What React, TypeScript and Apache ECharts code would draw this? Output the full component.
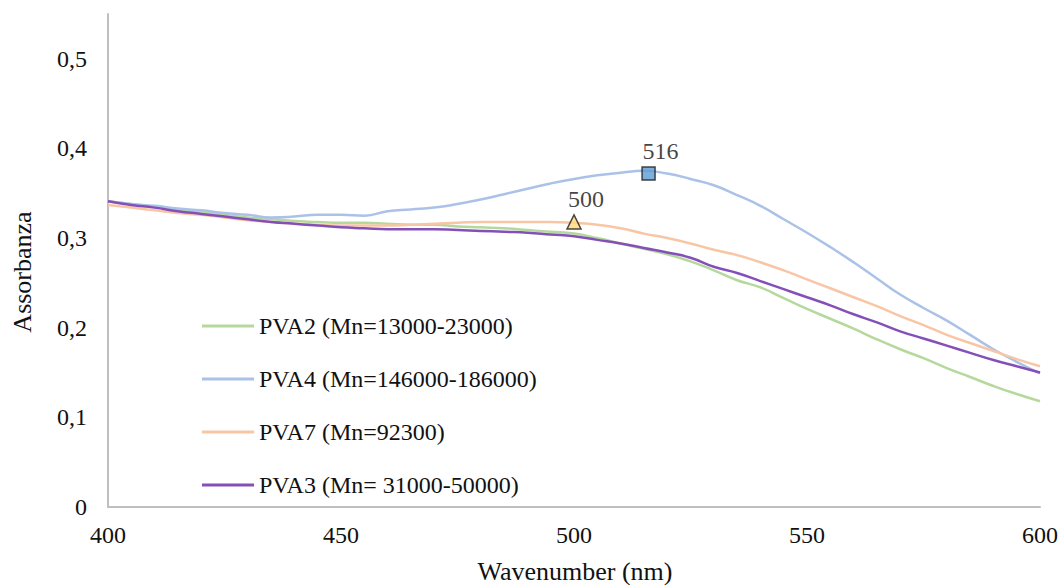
import React, { useEffect, useRef } from "react";
import * as echarts from "echarts";

const wavelengths = [400, 405, 410, 415, 420, 425, 430, 435, 440, 445, 450, 455, 460, 465, 470, 475, 480, 485, 490, 495, 500, 505, 510, 515, 520, 525, 530, 535, 540, 545, 550, 555, 560, 565, 570, 575, 580, 585, 590, 595, 600];

const pva2 = [0.341, 0.338, 0.335, 0.332, 0.329, 0.326, 0.323, 0.321, 0.319, 0.318, 0.317, 0.317, 0.316, 0.315, 0.315, 0.313, 0.312, 0.311, 0.309, 0.307, 0.305, 0.300, 0.294, 0.288, 0.282, 0.274, 0.264, 0.253, 0.245, 0.233, 0.221, 0.210, 0.199, 0.187, 0.176, 0.166, 0.155, 0.145, 0.135, 0.126, 0.118];
const pva4 = [0.341, 0.338, 0.336, 0.333, 0.331, 0.328, 0.326, 0.323, 0.324, 0.326, 0.326, 0.325, 0.330, 0.332, 0.334, 0.338, 0.343, 0.349, 0.355, 0.361, 0.366, 0.370, 0.373, 0.375, 0.372, 0.366, 0.359, 0.348, 0.336, 0.321, 0.306, 0.290, 0.273, 0.255, 0.237, 0.222, 0.208, 0.192, 0.176, 0.162, 0.149];
const pva7 = [0.337, 0.334, 0.331, 0.328, 0.326, 0.323, 0.320, 0.318, 0.316, 0.315, 0.314, 0.314, 0.314, 0.315, 0.316, 0.317, 0.318, 0.318, 0.318, 0.318, 0.317, 0.315, 0.311, 0.305, 0.300, 0.294, 0.287, 0.281, 0.273, 0.264, 0.254, 0.244, 0.234, 0.224, 0.213, 0.203, 0.192, 0.183, 0.174, 0.165, 0.157];
const pva3 = [0.341, 0.337, 0.334, 0.330, 0.327, 0.324, 0.321, 0.318, 0.316, 0.314, 0.312, 0.311, 0.310, 0.310, 0.310, 0.309, 0.308, 0.307, 0.306, 0.304, 0.302, 0.298, 0.294, 0.289, 0.284, 0.278, 0.268, 0.261, 0.252, 0.243, 0.234, 0.225, 0.215, 0.206, 0.196, 0.188, 0.180, 0.172, 0.164, 0.157, 0.150];

const seriesNames = [
  "PVA2 (Mn=13000-23000)",
  "PVA4 (Mn=146000-186000)",
  "PVA7 (Mn=92300)",
  "PVA3 (Mn= 31000-50000)",
];
const seriesColors = ["#b5d99c", "#abc2e8", "#f8c6a5", "#8450b8"];

const peakBlue = [516, 0.372];
const peakOrange = [500, 0.318];

const yTicks = [0, 0.1, 0.2, 0.3, 0.4, 0.5];

const xTitle = "Wavenumber (nm)";
const yTitle = "Assorbanza";

const FONT = '"Liberation Serif", "DejaVu Serif", serif';
const TXT = "#111111";

export default function App() {
  const ref = useRef<HTMLDivElement>(null);
  useEffect(() => {
    if (!ref.current) return;
    const chart = echarts.init(ref.current, null, { renderer: "svg" });
    const all = [pva2, pva4, pva7, pva3];
    const lineSeries = all.map((vals, i) => ({
      name: seriesNames[i],
      type: "line",
      data: wavelengths.map((w, j) => [w, vals[j]]),
      showSymbol: false,
      smooth: true,
      color: seriesColors[i],
      lineStyle: { width: 2.5, color: seriesColors[i] },
      itemStyle: { color: seriesColors[i] },
    }));
    chart.setOption({
      animation: false,
      backgroundColor: "#ffffff",
      textStyle: { fontFamily: FONT },
      grid: { left: 108, right: 24, top: 14, bottom: 78, outerBoundsMode: "none", containLabel: false },
      legend: {
        orient: "vertical",
        left: 197,
        top: 308,
        itemGap: 27,
        itemWidth: 52,
        itemHeight: 3,
        icon: "rect",
        data: seriesNames,
        textStyle: { fontFamily: FONT, fontSize: 24, color: TXT, lineHeight: 26 },
      },
      graphic: [
        {
          type: "text",
          x: 575,
          y: 571,
          style: { text: xTitle, fontFamily: FONT, fontSize: 26, fill: TXT, align: "center", verticalAlign: "middle" },
        },
        {
          type: "text",
          x: 22,
          y: 272,
          rotation: Math.PI / 2,
          style: { text: yTitle, fontFamily: FONT, fontSize: 26, fill: TXT, align: "center", verticalAlign: "middle" },
        },
      ],
      xAxis: {
        type: "value",
        min: 400,
        max: 600,
        interval: 50,
        axisLine: { show: true, lineStyle: { color: "#bfbfbf", width: 2 } },
        axisTick: { show: false },
        splitLine: { show: false },
        axisLabel: { margin: 16, fontFamily: FONT, fontSize: 24, color: TXT },
      },
      yAxis: {
        type: "value",
        min: 0,
        max: 0.55,
        interval: 0.1,
        axisLine: { show: true, lineStyle: { color: "#bfbfbf", width: 2 } },
        axisTick: { show: false },
        splitLine: { show: false },
        axisLabel: {
          margin: 21,
          fontFamily: FONT,
          fontSize: 24,
          color: TXT,
          formatter: (v: number) => {
            const hit = yTicks.find((t) => Math.abs(t - v) < 1e-6);
            if (hit === undefined) return "";
            return String(hit).replace(".", ",");
          },
        },
      },
      series: [
        ...lineSeries,
        {
          name: "peak516",
          type: "scatter",
          data: [peakBlue],
          symbol: "rect",
          symbolSize: 13,
          itemStyle: { color: "#5b9bd5", borderColor: "#1a1a1a", borderWidth: 1.5 },
          label: {
            show: true,
            position: "top",
            distance: 3,
            offset: [12, 0],
            formatter: () => String(peakBlue[0]),
            fontFamily: FONT,
            fontSize: 24,
            color: TXT,
          },
          z: 5,
        },
        {
          name: "peak500",
          type: "scatter",
          data: [peakOrange],
          symbol: "triangle",
          symbolSize: 14,
          itemStyle: { color: "#ffd97a", borderColor: "#1a1a1a", borderWidth: 1.5 },
          label: {
            show: true,
            position: "top",
            distance: 3,
            offset: [12, 0],
            formatter: () => String(peakOrange[0]),
            fontFamily: FONT,
            fontSize: 24,
            color: TXT,
          },
          z: 5,
        },
      ],
    });
    return () => chart.dispose();
  }, []);
  return (
    <div
      ref={ref}
      style={{ position: "fixed", left: 0, top: 0, width: 1064, height: 585, background: "#fff" }}
    />
  );
}
